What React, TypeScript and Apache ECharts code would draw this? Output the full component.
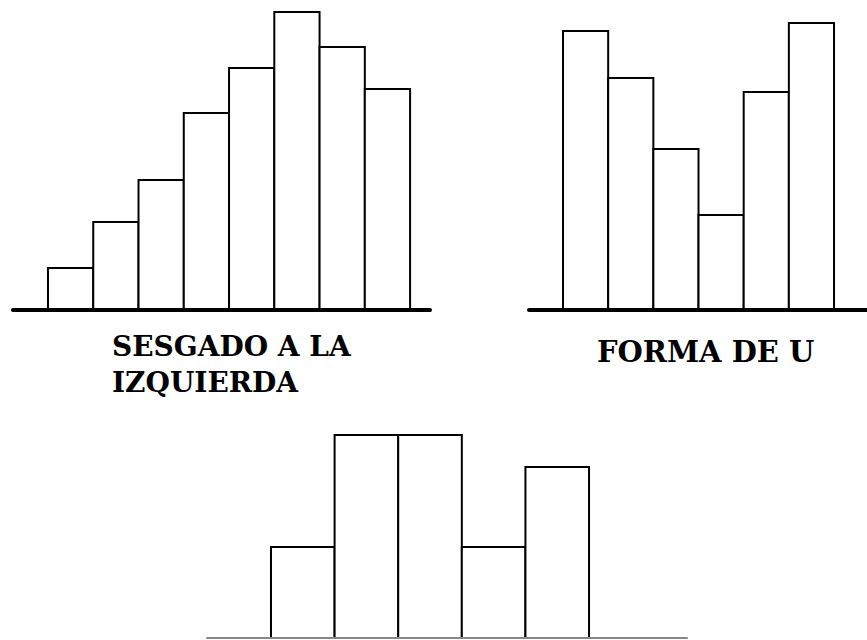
import React, { useEffect, useRef } from "react";
import * as echarts from "echarts";

// Histogram heights (arbitrary frequency units)
const skewLeftValues = [4.2, 8.8, 13.0, 19.7, 24.2, 29.8, 26.3, 22.1];
const uShapeValues = [27.9, 23.2, 16.1, 9.5, 21.8, 28.7];
const bottomValues = [9.1, 20.3, 20.3, 9.1, 17.1];

const skewLeftLabel = "SESGADO A LA\nIZQUIERDA";
const uShapeLabel = "FORMA DE U";

const renderBar = (params: any, api: any) => {
  const i = api.value(0);
  const v = api.value(1);
  const p0 = api.coord([i, 0]);
  const p1 = api.coord([i + 1, v]);
  return {
    type: "rect",
    shape: { x: p0[0], y: p1[1], width: p1[0] - p0[0], height: p0[1] - p1[1] },
    style: { fill: "#ffffff", stroke: "#000000", lineWidth: 2 },
  };
};

const toData = (vals: number[]) => vals.map((v, i) => [i, v]);

export default function App() {
  const ref = useRef<HTMLDivElement>(null);
  useEffect(() => {
    if (!ref.current) return;
    const chart = echarts.init(ref.current, null, { renderer: "svg" });
    const hiddenY = (idx: number, max: number) => ({
      type: "value",
      gridIndex: idx,
      min: 0,
      max,
      show: false,
      splitLine: { show: false },
    });
    const xAx = (idx: number, min: number, max: number, color: string, width: number) => ({
      type: "value",
      gridIndex: idx,
      min,
      max,
      z: 10,
      axisLine: { show: true, onZero: false, lineStyle: { color, width } },
      axisTick: { show: false },
      axisLabel: { show: false },
      splitLine: { show: false },
    });
    chart.setOption({
      animation: false,
      backgroundColor: "#ffffff",
      grid: [
        { left: 13, width: 417, top: 10, bottom: 330 },
        { left: 529, width: 338, top: 10, bottom: 330 },
        { left: 207, width: 480, top: 428, bottom: 2 },
      ],
      xAxis: [
        xAx(0, -0.773, 8.44, "#000", 4),
        xAx(1, -0.753, 6.73, "#000", 4),
        xAx(2, -1.006, 6.54, "#888", 2),
      ],
      yAxis: [hiddenY(0, 30), hiddenY(1, 30), hiddenY(2, 21)],
      title: [
        {
          text: skewLeftLabel,
          left: 112,
          top: 328,
          padding: 0,
          textStyle: {
            fontFamily: "DejaVu Serif",
            fontWeight: "bold",
            fontSize: 28,
            lineHeight: 36,
            color: "#000",
          },
        },
        {
          text: uShapeLabel,
          left: 597,
          top: 334,
          padding: 0,
          textStyle: {
            fontFamily: "DejaVu Serif",
            fontWeight: "bold",
            fontSize: 29,
            lineHeight: 36,
            color: "#000",
          },
        },
      ],
      series: [
        { type: "custom", xAxisIndex: 0, yAxisIndex: 0, renderItem: renderBar, data: toData(skewLeftValues), encode: { x: 0, y: 1 } },
        { type: "custom", xAxisIndex: 1, yAxisIndex: 1, renderItem: renderBar, data: toData(uShapeValues), encode: { x: 0, y: 1 } },
        { type: "custom", xAxisIndex: 2, yAxisIndex: 2, renderItem: renderBar, data: toData(bottomValues), encode: { x: 0, y: 1 } },
      ],
    });
    return () => chart.dispose();
  }, []);
  return (
    <div
      ref={ref}
      style={{ position: "fixed", left: 0, top: 0, width: 867, height: 640, background: "#fff" }}
    />
  );
}
